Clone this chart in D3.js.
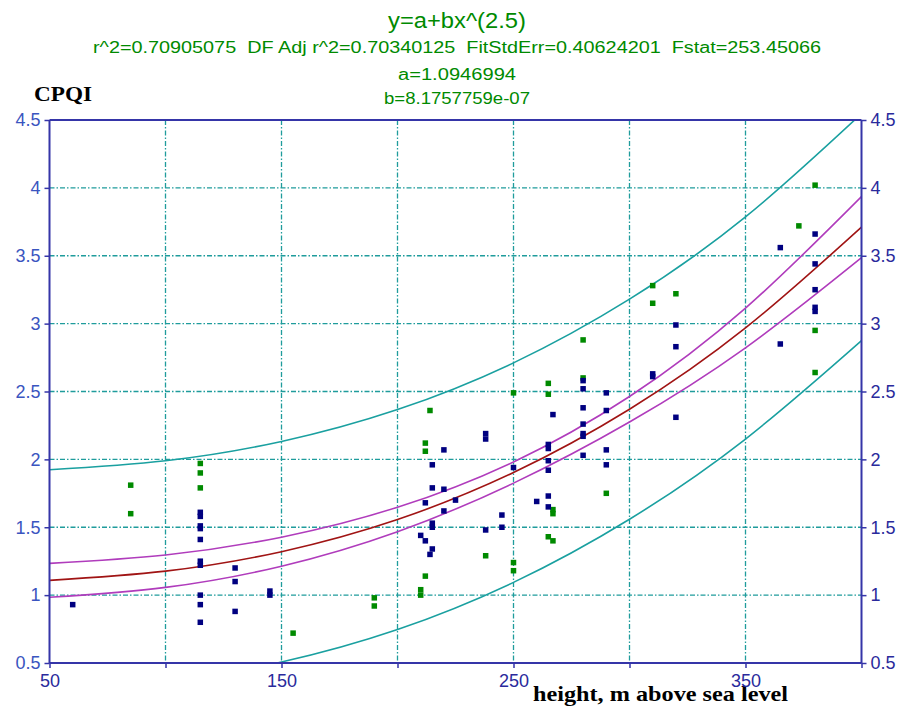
<!DOCTYPE html>
<html>
<head>
<meta charset="utf-8">
<script src="https://cdn.jsdelivr.net/npm/d3@7"></script>
<style>
  body { margin: 0; background: #fff; }
  text { white-space: pre; }
</style>
</head>
<body>
<svg width="899" height="706"></svg>
<script>

// DATA

// x positions where the fitted curve and its bands were read
var bandX = [50, 100, 150, 200, 250, 300, 350, 400];

// fitted curve y=a+bx^(2.5)
var fitY = [1.109, 1.177, 1.320, 1.557, 1.903, 2.369, 2.968, 3.711];

// confidence band (magenta)
var confUpper = [1.234, 1.296, 1.427, 1.647, 1.981, 2.463, 3.114, 3.936];
var confLower = [0.984, 1.057, 1.213, 1.467, 1.825, 2.275, 2.822, 3.486];

// prediction band (teal)
var predUpper = [1.924, 1.990, 2.132, 2.367, 2.711, 3.180, 3.786, 4.547];
var predLower = [0.295, 0.363, 0.508, 0.747, 1.094, 1.559, 2.150, 2.875];

// observations, [height, CPQI]
var greenPoints = [
  [85, 1.81], [85, 1.60],
  [115, 1.97], [115, 1.90], [115, 1.79],
  [155, 0.72],
  [190, 0.98], [190, 0.92],
  [210, 1.04], [210, 1.00],
  [212, 1.14], [212, 2.12], [212, 2.06],
  [214, 2.36],
  [238, 1.29],
  [250, 2.49], [250, 1.24], [250, 1.18],
  [265, 2.56], [265, 2.48],
  [267, 1.63], [267, 1.60], [265, 1.43], [267, 1.40],
  [280, 2.88], [280, 2.60],
  [290, 1.75],
  [310, 3.28], [310, 3.15],
  [320, 3.22],
  [373, 3.72],
  [380, 4.02], [380, 2.95], [380, 2.64]
];

var navyPoints = [
  [60, 0.93],
  [115, 1.61], [115, 1.58], [115, 1.51], [115, 1.49], [115, 1.41],
  [115, 1.25], [115, 1.22], [115, 1.00], [115, 0.93], [115, 0.80],
  [130, 1.20], [130, 1.10], [130, 0.88],
  [145, 1.03], [145, 1.00],
  [210, 1.44],
  [212, 1.68], [212, 1.40],
  [215, 1.96], [215, 1.79], [215, 1.53], [215, 1.50], [215, 1.34],
  [214, 1.30],
  [220, 2.07], [220, 1.78], [220, 1.62],
  [225, 1.70],
  [238, 2.19], [238, 2.15], [238, 1.48],
  [245, 1.59], [245, 1.50],
  [250, 1.94],
  [260, 1.69],
  [265, 2.11], [265, 2.08], [265, 1.99], [265, 1.92], [265, 1.73], [265, 1.65],
  [267, 2.33],
  [280, 2.58], [280, 2.52], [280, 2.38], [280, 2.26], [280, 2.19], [280, 2.17], [280, 2.03],
  [290, 2.49], [290, 2.36], [290, 2.07], [290, 1.96],
  [310, 2.63], [310, 2.61],
  [320, 2.99], [320, 2.83], [320, 2.31],
  [365, 3.56], [365, 2.85],
  [380, 3.66], [380, 3.44], [380, 3.25], [380, 3.12], [380, 3.09]
];

var xTicks = [50, 100, 150, 200, 250, 300, 350, 400];
var xTickLabels = [50, 150, 250, 350];
var yTicks = [0.5, 1, 1.5, 2, 2.5, 3, 3.5, 4, 4.5];

var titleLines = [
  "y=a+bx^(2.5)",
  "r^2=0.70905075  DF Adj r^2=0.70340125  FitStdErr=0.40624201  Fstat=253.45066",
  "a=1.0946994",
  "b=8.1757759e-07"
];


// VIEW

var svg = d3.select("svg");

var x = d3.scaleLinear().domain([50, 400]).range([49.5, 861.5]),
    y = d3.scaleLinear().domain([0.5, 4.5]).range([663, 120]);

var axisColor = "#3535a8",
    gridColor = "#1f9c9c",
    green = "#008a00",
    navy = "#000080",
    narrow = "'Liberation Sans Narrow', 'Arial Narrow', 'Liberation Sans', Arial, sans-serif",
    serif = "'Liberation Serif', 'Times New Roman', serif";

// Title block
var titleY = [20, 47, 74, 98],
    titleSize = [22, 16, 16, 16],
    titleLen = [138, 728, 118, 146];

svg.append("g").selectAll("text")
  .data(titleLines)
  .enter().append("text")
    .attr("x", 457)
    .attr("y", function(d, i) { return titleY[i]; })
    .attr("dy", "0.35em")
    .attr("text-anchor", "middle")
    .attr("fill", green)
    .attr("font-family", narrow)
    .attr("font-size", function(d, i) { return titleSize[i]; })
    .attr("textLength", function(d, i) { return titleLen[i]; })
    .attr("lengthAdjust", "spacingAndGlyphs")
    .text(function(d) { return d; });

// Y axis title
svg.append("text")
    .attr("x", 34)
    .attr("y", 101)
    .attr("font-family", serif)
    .attr("font-weight", "bold")
    .attr("font-size", 20)
    .attr("textLength", 58)
    .attr("lengthAdjust", "spacingAndGlyphs")
    .attr("fill", "#000")
    .text("CPQI");

// Bottom axis title (sits right under the tick labels, as in the original)
svg.append("text")
    .attr("x", 533)
    .attr("y", 701)
    .attr("font-family", serif)
    .attr("font-weight", "bold")
    .attr("font-size", 21)
    .attr("textLength", 255)
    .attr("lengthAdjust", "spacingAndGlyphs")
    .attr("fill", "#000")
    .text("height, m above sea level");

// Grid
var grid = svg.append("g")
    .attr("stroke", gridColor)
    .attr("stroke-width", 1.3)
    .attr("stroke-dasharray", "5,2,1.5,2");

grid.selectAll(".vgrid")
  .data(xTicks.slice(1, -1))
  .enter().append("line")
    .attr("x1", function(d) { return x(d); })
    .attr("x2", function(d) { return x(d); })
    .attr("y1", y(4.5))
    .attr("y2", y(0.5));

grid.selectAll(".hgrid")
  .data(yTicks.slice(1, -1))
  .enter().append("line")
    .attr("x1", x(50))
    .attr("x2", x(400))
    .attr("y1", function(d) { return y(d); })
    .attr("y2", function(d) { return y(d); });

// Curves, clipped to the plot area
svg.append("clipPath").attr("id", "plot")
  .append("rect")
    .attr("x", x(50)).attr("y", y(4.5))
    .attr("width", x(400) - x(50)).attr("height", y(0.5) - y(4.5));

var line = d3.line()
    .x(function(d) { return x(d[0]); })
    .y(function(d) { return y(d[1]); })
    .curve(d3.curveNatural);

var curves = [
  { values: predUpper, color: "#1aa0a0" },
  { values: predLower, color: "#1aa0a0" },
  { values: confUpper, color: "#b03cbc" },
  { values: confLower, color: "#b03cbc" },
  { values: fitY, color: "#a01414" }
];

svg.append("g")
    .attr("clip-path", "url(#plot)")
  .selectAll("path")
  .data(curves)
  .enter().append("path")
    .attr("fill", "none")
    .attr("stroke", function(d) { return d.color; })
    .attr("stroke-width", 1.6)
    .attr("d", function(d) { return line(d3.zip(bandX, d.values)); });

// Points
function drawPoints(points, color) {
  svg.append("g").selectAll("rect")
    .data(points)
    .enter().append("rect")
      .attr("x", function(d) { return x(d[0]) - 2.75; })
      .attr("y", function(d) { return y(d[1]) - 2.75; })
      .attr("width", 5.5)
      .attr("height", 5.5)
      .attr("fill", color);
}
drawPoints(greenPoints, green);
drawPoints(navyPoints, navy);

// Axes
var frame = svg.append("g").attr("stroke", axisColor).attr("stroke-width", 2);
frame.append("line").attr("x1", x(50)).attr("x2", x(400)).attr("y1", y(4.5)).attr("y2", y(4.5));
frame.append("line").attr("x1", x(50)).attr("x2", x(400)).attr("y1", y(0.5)).attr("y2", y(0.5));
frame.append("line").attr("x1", x(50)).attr("x2", x(50)).attr("y1", y(0.5)).attr("y2", y(4.5));
frame.append("line").attr("x1", x(400)).attr("x2", x(400)).attr("y1", y(0.5)).attr("y2", y(4.5));

var fmt = d3.format("");

var leftAxis = svg.append("g")
    .attr("transform", "translate(" + x(50) + ",0)")
    .call(d3.axisLeft(y).tickValues(yTicks).tickFormat(fmt).tickSize(5).tickPadding(4));

var rightAxis = svg.append("g")
    .attr("transform", "translate(" + x(400) + ",0)")
    .call(d3.axisRight(y).tickValues(yTicks).tickFormat(fmt).tickSize(5).tickPadding(4));

var bottomAxis = svg.append("g")
    .attr("transform", "translate(0," + y(0.5) + ")")
    .call(d3.axisBottom(x).tickValues(xTicks)
      .tickFormat(function(d) { return xTickLabels.indexOf(d) >= 0 ? d : ""; })
      .tickSize(5).tickPadding(6));

[leftAxis, rightAxis, bottomAxis].forEach(function(a) {
  a.select(".domain").remove();
  a.selectAll(".tick line").attr("stroke", axisColor).attr("stroke-width", 1.5);
  a.selectAll("text")
    .attr("font-family", narrow)
    .attr("font-size", 18)
    .attr("fill", "#2a2a9c");
});
leftAxis.selectAll("text").attr("fill", "#3a55c0");

</script>
</body>
</html>
